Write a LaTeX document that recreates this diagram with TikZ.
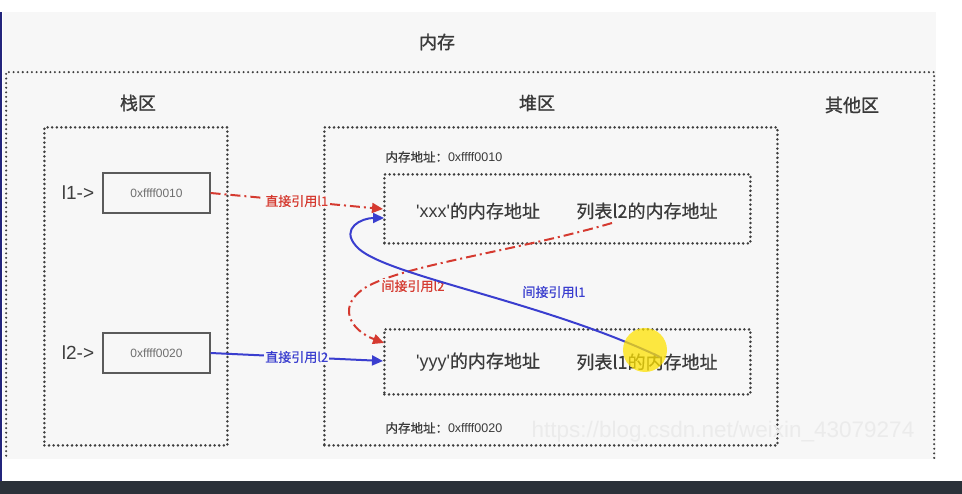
\documentclass[tikz,border=0pt]{standalone}
\usepackage{fontspec}
\setmainfont{Noto Sans CJK SC}
\newfontfamily\cjkbold[FakeBold=1.2]{Noto Sans CJK SC}
\newfontfamily\cjkmed[FakeBold=0.6]{Noto Sans CJK SC}
\newfontfamily\lat{Liberation Sans}
\usetikzlibrary{arrows.meta}
\definecolor{panel}{HTML}{F7F7F7}
\definecolor{ink}{HTML}{3E3E3E}
\definecolor{txt}{HTML}{3A3A3A}
\definecolor{dred}{HTML}{D53A30}
\definecolor{dblue}{HTML}{3A3ECF}
\definecolor{bar}{HTML}{2B3139}
\begin{document}
\begin{tikzpicture}[x=1pt,y=-1pt,
  dotbox/.style={draw=ink, line width=2.8pt, line cap=round, dash pattern=on 0pt off 4.6pt, inner sep=0pt, anchor=north west},
  membox/.style={draw=ink!85, line width=1.1pt, inner sep=0pt, minimum width=107pt, minimum height=40pt, font=\lat\fontsize{12}{12}\selectfont, text=ink!75},
  title/.style={font=\cjkbold\fontsize{18}{18}\selectfont, text=txt},
  cell/.style={font=\cjkmed\fontsize{18}{18}\selectfont, text=txt},
  addr/.style={font=\cjkmed\fontsize{12.5}{12.5}\selectfont, text=txt, anchor=west},
  lbl/.style={font=\cjkmed\fontsize{13}{13}\selectfont, fill=panel, inner sep=1pt},
  redline/.style={draw=dred, line width=2pt, dash pattern=on 10pt off 4pt on 2pt off 4pt, -{Triangle[length=11pt,width=10pt]}},
  blueline/.style={draw=dblue, line width=2pt, -{Triangle[length=11pt,width=10pt]}}
]
\useasboundingbox (0,0) rectangle (962,494);
\fill[white] (0,0) rectangle (962,494);
\fill[panel] (3,12) rectangle (936,459);
\fill[bar] (0,481) rectangle (962,494);
\fill[dblue!60!black] (0,12) rectangle (1.5,481);

% outer memory frame, cut by the panel edge
\begin{scope}
  \clip (0,12) rectangle (936,459);
  \node[dotbox, line width=2.3pt, minimum width=928pt, minimum height=410pt] (mem) at (5,71) {};
\end{scope}
\node[title] (memt) at (437,42) {内存};

% areas
\node[dotbox, minimum width=183pt, minimum height=318pt] (stack) at (43,126) {};
\node[dotbox, minimum width=453pt, minimum height=318pt] (heap) at (323,126) {};
\node[title] (stackt) at (138,103) {栈区};
\node[title] (heapt) at (537,103) {堆区};
\node[title] (othert) at (852,105) {其他区};

% stack cells
\node[membox] (m1) at (156.5,193) {0xffff0010};
\node[membox] (m2) at (156.5,353) {0xffff0020};
\node[font=\lat\fontsize{19}{19}\selectfont, text=ink] (l1) at (78,193) {l1-{}>};
\node[font=\lat\fontsize{19}{19}\selectfont, text=ink] (l2) at (78,353) {l2-{}>};

% heap objects
\node[addr] (a1) at (382,157) {内存地址：{\lat 0xffff0010}};
\node[dotbox, minimum width=366pt, minimum height=69pt] (obj1) at (383,173) {};
\node[cell] (x1) at (478,211) {{\lat 'xxx'}的内存地址};
\node[cell] (x2) at (647,211) {列表l2的内存地址};
\node[addr] (a2) at (382,428) {内存地址：{\lat 0xffff0020}};
\node[dotbox, minimum width=366pt, minimum height=65pt] (obj2) at (383,328) {};
\node[cell] (y1) at (478,362) {{\lat 'yyy'}的内存地址};
\node[cell] (y2) at (647,362) {列表l1的内存地址};

% direct references
\draw[redline] (m1.east) -- node[lbl, text=dred] (d1) {直接引用l1} (383,209);
\draw[blueline] (m2.east) -- node[lbl, text=dblue] (d2) {直接引用l2} (383,361);

% indirect reference l2 (red, from obj1 to obj2)
\coordinate (s2) at (612,223);
\coordinate (e2) at (384,343);
\draw[redline] (s2) .. controls (520,250) and (410,264) .. (368,286)
  .. controls (335,305) and (350,330) .. (e2);
\node[lbl, text=dred] (i2) at (413,286) {间接引用l2};

% indirect reference l1 (blue, from obj2 to obj1)
\coordinate (s1) at (660,357);
\coordinate (e1) at (384,218);
\draw[blueline] (s1) .. controls (540,300) and (380,275) .. (356,246)
  .. controls (340,228) and (362,218) .. (e1);
\node[font=\cjkmed\fontsize{13}{13}\selectfont, text=dblue] (i1) at (554,292) {间接引用l1};

% watermark
\node[font=\lat\fontsize{22.5}{22.5}\selectfont, text=black!8, anchor=west] (wm) at (528,432) {https://blog.csdn.net/weixin\_43079274};

% screen-recording highlight
\fill[yellow!85!orange, opacity=0.75] (645,350) circle (22);
\end{tikzpicture}
\end{document}
